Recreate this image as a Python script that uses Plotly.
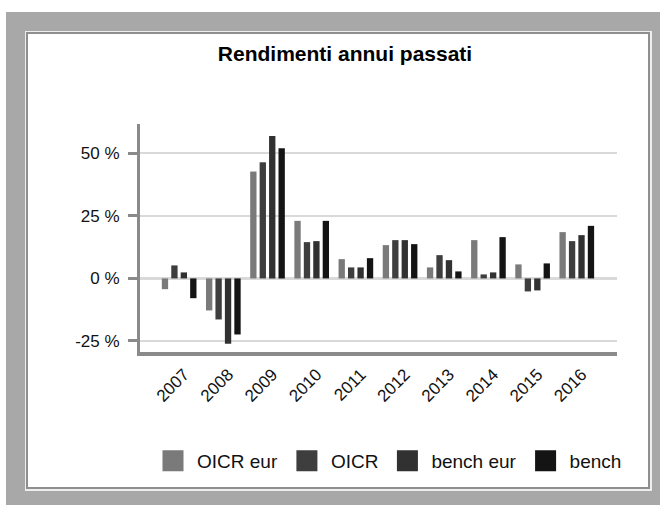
import plotly.graph_objects as go

# ---- data ----
years = ["2007", "2008", "2009", "2010", "2011", "2012", "2013", "2014", "2015", "2016"]
oicr_eur = [-4.3, -12.8, 42.7, 23.0, 7.7, 13.3, 4.4, 15.3, 5.6, 18.5]
oicr = [5.2, -16.4, 46.4, 14.5, 4.4, 15.3, 9.3, 1.6, -5.2, 14.9]
bench_eur = [2.4, -26.1, 56.9, 14.9, 4.4, 15.3, 7.3, 2.4, -4.8, 17.3]
bench = [-7.9, -22.4, 52.0, 23.0, 8.1, 13.7, 2.8, 16.5, 6.0, 21.0]
series_names = ["OICR eur", "OICR", "bench eur", "bench"]
series_values = [oicr_eur, oicr, bench_eur, bench]
series_colors = ["#7a7a7a", "#3e3e3e", "#313131", "#141414"]
y_tickvals = [-25, 0, 25, 50]
y_ticktext = ["-25 %", "0 %", "25 %", "50 %"]
title_text = "Rendimenti annui passati"

FONT = "Liberation Sans, Arial, sans-serif"
W, H = 662, 506
L, R, T, B = 140, 45, 124, 154
PW, PH = W - L - R, H - T - B


def px_x(px):
    return (px - L) / PW


def px_y(py):
    return (H - B - py) / PH


fig = go.Figure()
for name, vals, col in zip(series_names, series_values, series_colors):
    fig.add_trace(go.Bar(x=years, y=vals, name=name, marker=dict(color=col, line=dict(width=0)),
                         showlegend=False))
# legend entries (big squares)
for name, col in zip(series_names, series_colors):
    fig.add_trace(go.Scatter(x=[None], y=[None], mode="markers", name=name,
                             marker=dict(symbol="square", size=16, color=col,
                                         line=dict(color=col, width=5)),
                             showlegend=True, hoverinfo="skip"))

shapes = [
    # outer grey frame
    dict(type="rect", xref="paper", yref="paper", layer="below",
         x0=px_x(6), x1=px_x(660), y0=px_y(12), y1=px_y(505),
         fillcolor="#a8a8a8", line=dict(width=0)),
    # light bevel line
    dict(type="rect", xref="paper", yref="paper", layer="below",
         x0=px_x(25), x1=px_x(652), y0=px_y(31), y1=px_y(491),
         fillcolor="#eeeeee", line=dict(width=0)),
    # inner white box
    dict(type="rect", xref="paper", yref="paper", layer="below",
         x0=px_x(27), x1=px_x(649), y0=px_y(33), y1=px_y(488),
         fillcolor="white", line=dict(color="#8f8f8f", width=2)),
]

fig.update_layout(
    width=W, height=H, autosize=False,
    margin=dict(l=L, r=R, t=T, b=B, pad=0),
    paper_bgcolor="white", plot_bgcolor="rgba(0,0,0,0)",
    font=dict(family=FONT, color="#111111"),
    barmode="group", bargap=0.145, bargroupgap=0.33,
    title=dict(text="<b>" + title_text + "</b>", font=dict(family=FONT, size=21, color="black"),
               x=px_x(345), xref="paper", xanchor="center",
               y=1 - 54 / H, yref="container", yanchor="middle"),
    shapes=shapes,
    showlegend=True,
    legend=dict(orientation="h", x=px_x(149), y=px_y(461), xanchor="left", yanchor="middle",
                font=dict(family=FONT, size=19, color="#111111"), itemsizing="trace",
                itemwidth=38,
                bgcolor="rgba(0,0,0,0)", traceorder="normal"),
    xaxis=dict(type="category", range=[-0.886, 9.91], showgrid=False, zeroline=False,
               showline=True, linecolor="#8a8a8a", linewidth=4, ticks="",
               tickangle=-45, ticklabelshift=5, ticklabelstandoff=2,
               tickfont=dict(family=FONT, size=17, color="#111111")),
    yaxis=dict(range=[-29.4, 61.7], tickvals=y_tickvals, ticktext=y_ticktext,
               showgrid=True, gridcolor="#d9d9d9", gridwidth=2,
               zeroline=True, zerolinecolor="#d9d9d9", zerolinewidth=3,
               showline=True, linecolor="#8a8a8a", linewidth=3,
               ticks="outside", ticklen=9, tickwidth=3, tickcolor="#8a8a8a",
               ticklabelstandoff=5,
               tickfont=dict(family=FONT, size=17, color="#111111")),
)

fig.write_html("out.html", config={"displayModeBar": False},
               post_script="document.body.style.margin='0';document.body.style.overflow='hidden';")
